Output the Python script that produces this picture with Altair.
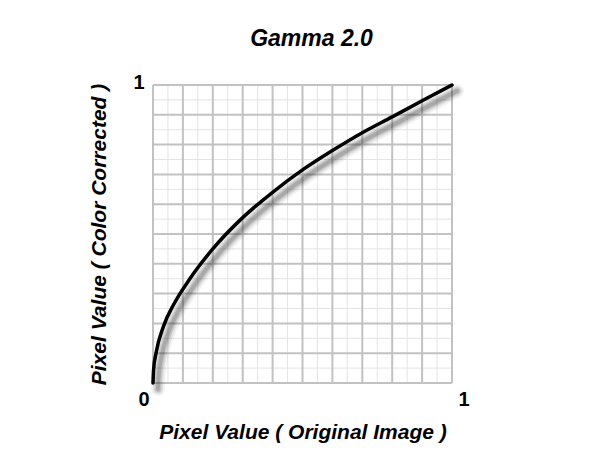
import altair as alt
import pandas as pd

# curve (x = original pixel value, y = corrected value)
curve_x = [0.0, 0.002, 0.01, 0.035, 0.07, 0.12, 0.2, 0.3, 0.4, 0.5, 0.6, 0.7, 0.8, 0.9, 1.0]
curve_y = [0.0, 0.045, 0.1, 0.19, 0.265, 0.345, 0.45, 0.555, 0.64, 0.715, 0.78, 0.84, 0.893, 0.947, 1.0]

major_ticks = [0.0, 0.1, 0.2, 0.3, 0.4, 0.5, 0.6, 0.7, 0.8, 0.9, 1.0]
minor_ticks = [0.05, 0.15, 0.25, 0.35, 0.45, 0.55, 0.65, 0.75, 0.85, 0.95]
x_label_values = [0, 1]
y_label_values = [1]

curve = pd.DataFrame({"x": curve_x, "y": curve_y})
major = pd.DataFrame({"v": major_ticks})
minor = pd.DataFrame({"v": minor_ticks})

FONT = "Liberation Sans"

xs = alt.Scale(domain=[0, 1], nice=False, zero=False)
ys = alt.Scale(domain=[0, 1], nice=False, zero=False)

x_axis = alt.Axis(
    values=x_label_values, format="d", title="Pixel Value ( Original Image )", grid=False,
    domain=False, ticks=False, labelFont=FONT, labelFontSize=20, labelFontWeight="bold",
    labelColor="black", labelAlign={"expr": "datum.value < 0.5 ? 'right' : 'left'"},
    labelOffset={"expr": "datum.value < 0.5 ? -4 : 6"}, labelPadding=6,
    titleFont=FONT, titleFontSize=21, titleFontWeight="bold", titleFontStyle="italic",
    titleColor="black", titlePadding=12,
)
y_axis = alt.Axis(
    values=y_label_values, format="d", title="Pixel Value ( Color Corrected )", grid=False,
    domain=False, ticks=False, labelFont=FONT, labelFontSize=20, labelFontWeight="bold",
    labelColor="black", labelPadding=9, labelBaseline="middle", labelOffset=-3,
    titleFont=FONT, titleFontSize=21, titleFontWeight="bold", titleFontStyle="italic",
    titleColor="black", titlePadding=23,
)

X = lambda f: alt.X(f, type="quantitative", scale=xs, axis=x_axis)
Y = lambda f: alt.Y(f, type="quantitative", scale=ys, axis=y_axis)

minor_v = alt.Chart(minor).mark_rule(color="#e4e4e4", strokeWidth=1).encode(x=X("v"))
minor_h = alt.Chart(minor).mark_rule(color="#e4e4e4", strokeWidth=1).encode(y=Y("v"))
major_v = alt.Chart(major).mark_rule(color="#c2c2c2", strokeWidth=2).encode(x=X("v"))
major_h = alt.Chart(major).mark_rule(color="#c2c2c2", strokeWidth=2).encode(y=Y("v"))

shadows = [
    alt.Chart(curve).mark_line(color="#222222", strokeWidth=w, opacity=o, xOffset=5, yOffset=6,
                               interpolate="monotone", strokeCap="round")
    .encode(x=X("x"), y=Y("y"))
    for w, o in [(14, 0.06), (10, 0.09), (7, 0.12), (4, 0.18)]
]
line = alt.Chart(curve).mark_line(color="black", strokeWidth=3.5, interpolate="monotone",
                                  strokeCap="round").encode(x=X("x"), y=Y("y"))

chart = alt.layer(minor_v, minor_h, major_v, major_h, *shadows, line).properties(
    width=299, height=298,
    padding={"left": 80, "top": 20, "right": 5, "bottom": 5},
    title=alt.TitleParams(text="Gamma 2.0", font=FONT, fontSize=23, fontStyle="italic",
                          fontWeight="bold", color="black", anchor="middle", dx=9, offset=12),
    background="white",
).configure_view(stroke=None)

chart.save("out.html", embed_options={"renderer": "svg", "actions": False})
